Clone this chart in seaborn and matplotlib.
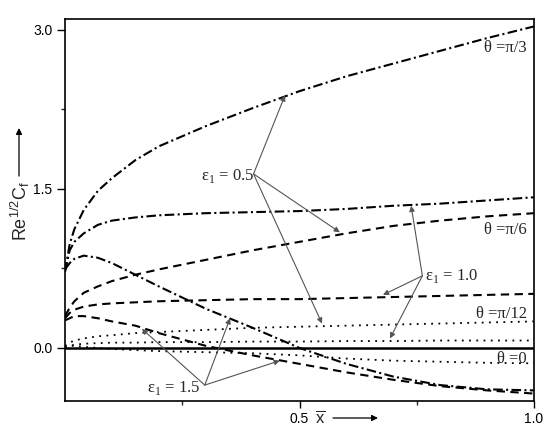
import seaborn as sns
import matplotlib.pyplot as plt
import pandas as pd

sns.set_style("ticks")
plt.rcParams["font.family"] = ["Liberation Sans", "DejaVu Sans"]

# x positions along the plate
x_vals = [0, 0.01, 0.02, 0.04, 0.07, 0.1, 0.15, 0.2, 0.3, 0.4, 0.5, 0.6, 0.7, 0.8, 0.9, 1.0]

# Re^1/2 Cf curves
dd_pi3 = [0.72, 0.98, 1.12, 1.30, 1.48, 1.60, 1.77, 1.90, 2.09, 2.26, 2.42, 2.56, 2.68, 2.80, 2.92, 3.03]
dd_pi6 = [0.72, 0.92, 1.00, 1.08, 1.16, 1.20, 1.23, 1.25, 1.27, 1.28, 1.29, 1.31, 1.34, 1.36, 1.39, 1.42]
dd_down = [0.74, 0.80, 0.84, 0.87, 0.85, 0.80, 0.69, 0.58, 0.37, 0.19, 0.00, -0.15, -0.27, -0.35, -0.39, -0.40]
da_up = [0.30, 0.38, 0.44, 0.52, 0.58, 0.63, 0.69, 0.74, 0.83, 0.92, 1.00, 1.08, 1.15, 1.20, 1.24, 1.27]
da_flat = [0.28, 0.33, 0.36, 0.39, 0.41, 0.42, 0.43, 0.44, 0.45, 0.46, 0.46, 0.47, 0.48, 0.49, 0.50, 0.51]
da_down = [0.26, 0.28, 0.30, 0.30, 0.28, 0.25, 0.21, 0.14, 0.02, -0.07, -0.15, -0.23, -0.30, -0.36, -0.40, -0.43]
dot_top = [0.02, 0.05, 0.07, 0.09, 0.11, 0.12, 0.14, 0.15, 0.17, 0.19, 0.20, 0.21, 0.22, 0.23, 0.24, 0.25]
dot_mid = [0.01, 0.02, 0.03, 0.04, 0.045, 0.05, 0.05, 0.055, 0.055, 0.06, 0.06, 0.065, 0.065, 0.07, 0.07, 0.07]
dot_low = [0.00, 0.02, 0.02, 0.01, 0.00, -0.01, -0.02, -0.03, -0.04, -0.05, -0.07, -0.10, -0.12, -0.13, -0.14, -0.145]
zero_line = [0.0] * len(x_vals)

curves = [dd_pi3, dd_pi6, dd_down, da_up, da_flat, da_down, dot_top, dot_mid, dot_low, zero_line]
kinds = ["dashdot", "dashdot", "dashdot", "dashed", "dashed", "dashed", "dotted", "dotted", "dotted", "solid"]

styles = {
    "dashdot": dict(linestyle=(0, (4.6, 1.6, 1.0, 1.6)), linewidth=1.5),
    "dashed": dict(linestyle=(0, (4.0, 2.6)), linewidth=1.5),
    "dotted": dict(linestyle=(0, (1.0, 3.0)), linewidth=1.3),
    "solid": dict(linestyle="-", linewidth=1.8),
}

theta_labels = ["θ =π/3", "θ =π/6", "θ =π/12", "θ =0"]
theta_y = [2.83, 1.11, 0.32, -0.10]

eps_labels = ["0.5", "1.0", "1.5"]
eps_origin = [(0.402, 1.64), (0.762, 0.68), (0.298, -0.35)]
eps_text = [(0.290, 1.62), (0.768, 0.68), (0.175, -0.38)]
eps_targets = [
    [(0.469, 2.38), (0.586, 1.09), (0.548, 0.23)],
    [(0.738, 1.34), (0.678, 0.50), (0.693, 0.09)],
    [(0.164, 0.18), (0.352, 0.28), (0.458, -0.12)],
]

fig = plt.figure(figsize=(5.5, 4.41), dpi=100)
ax = fig.add_axes([0.1182, 0.0907, 0.8527, 0.8662])

for ys, kind in zip(curves, kinds):
    df = pd.DataFrame({"x": x_vals, "y": ys})
    sns.lineplot(data=df, x="x", y="y", ax=ax, color="black", **styles[kind])

ax.set_xlim(0, 1.0)
ax.set_ylim(-0.5, 3.1)
ax.set_xticks([0.5, 1.0])
ax.set_xticklabels(["0.5", "1.0"])
ax.set_xticks([0.25, 0.75], minor=True)
ax.set_yticks([0.0, 1.5, 3.0])
ax.set_yticklabels(["0.0", "1.5", "3.0"])
ax.set_yticks([0.75, 2.25], minor=True)
ax.tick_params(which="major", direction="out", length=5, width=1, labelsize=10, pad=3, colors="black")
ax.tick_params(which="minor", direction="out", length=3, width=1)
ax.tick_params(axis="y", which="major", length=6)
ax.set_xlabel("")
ax.set_ylabel("")
for sp in ax.spines.values():
    sp.set_visible(True)
    sp.set_linewidth(1.2)
    sp.set_color("black")

serif = ["Liberation Serif", "DejaVu Serif"]
for lab, yy in zip(theta_labels, theta_y):
    ax.text(0.985, yy, lab, ha="right", va="center", fontsize=12, family=serif)

for lab, org, txt, tgts in zip(eps_labels, eps_origin, eps_text, eps_targets):
    ax.text(txt[0], txt[1], "ε$_{\\mathregular{1}}$ = " + lab, ha="left", va="center",
            fontsize=12, family=serif)
    for t in tgts:
        ax.annotate("", xy=t, xytext=org,
                    arrowprops=dict(arrowstyle="-|>", color="#555555", lw=0.8,
                                    mutation_scale=8, shrinkA=0, shrinkB=0))

# axis labels with arrows
fig.text(20 / 550, 1 - 211 / 441, "Re$^{\\mathregular{1/2}}$C$_{\\mathregular{f}}$",
         rotation=90, ha="center", va="center", fontsize=13)
fig.add_artist(plt.Annotation("", xy=(19 / 550, 1 - 128 / 441), xytext=(19 / 550, 1 - 176 / 441),
                              xycoords="figure fraction",
                              arrowprops=dict(arrowstyle="-|>", color="black", lw=0.9,
                                              mutation_scale=9, shrinkA=0, shrinkB=0)))
fig.text(320 / 550, 1 - 418 / 441, "$\\overline{\\mathregular{x}}$", ha="center", va="center", fontsize=12)
fig.add_artist(plt.Annotation("", xy=(378 / 550, 1 - 418 / 441), xytext=(333 / 550, 1 - 418 / 441),
                              xycoords="figure fraction",
                              arrowprops=dict(arrowstyle="-|>", color="black", lw=0.9,
                                              mutation_scale=9, shrinkA=0, shrinkB=0)))

fig.savefig("out.png", dpi=100)
